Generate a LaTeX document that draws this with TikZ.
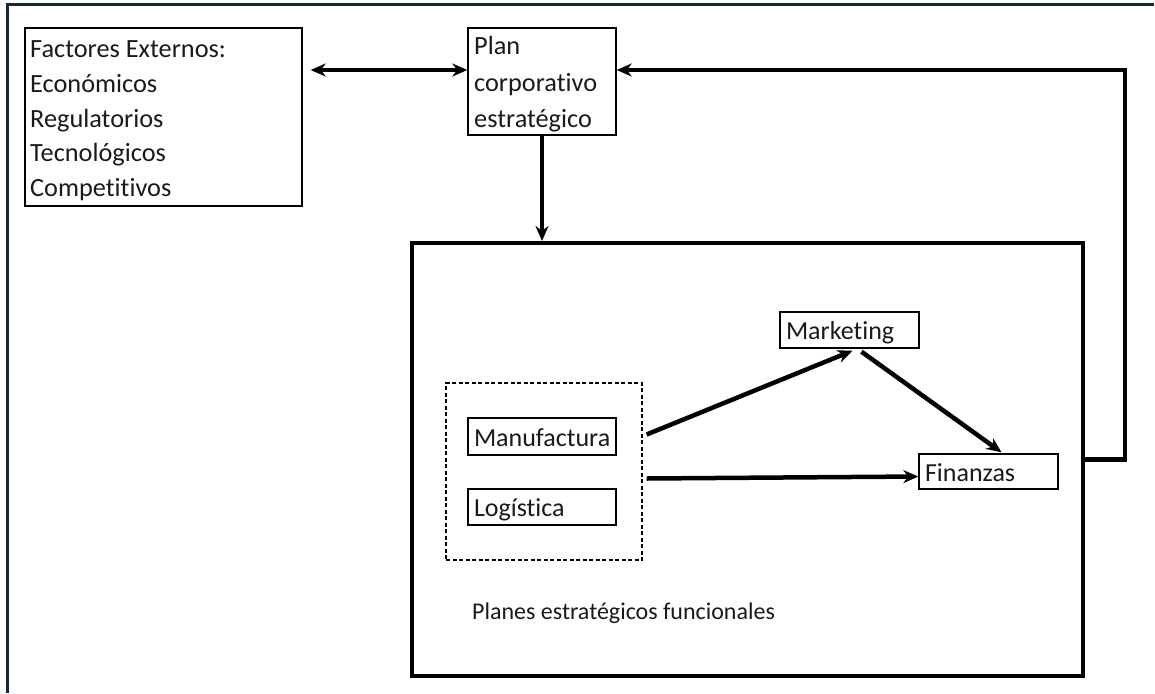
\documentclass[tikz,border=0pt]{standalone}
\usepackage{fontspec}
\setmainfont{Carlito}[Ligatures=NoCommon]
\usetikzlibrary{arrows.meta}
\definecolor{frame}{HTML}{17253F}
\definecolor{txt}{HTML}{1A1A1A}
\begin{document}
\begin{tikzpicture}[x=1pt,y=-1pt,
  box/.style={draw=black, line width=1.4pt, rectangle, inner sep=0pt},
  lbox/.style={box, inner xsep=6pt, inner ysep=0pt, align=left, text=txt,
     text height=21pt, text depth=2pt, font=\fontsize{26}{30}\selectfont},
  line/.style={anchor=base west, inner sep=0pt, text=txt, font=\fontsize{26.3}{30}\selectfont},
  arr/.style={line width=4.5pt, -{Stealth[length=15pt,width=13pt]}},
  dbl/.style={line width=4.5pt, {Stealth[length=15pt,width=13pt]}-{Stealth[length=15pt,width=13pt]}},
  ]
\useasboundingbox (0,0) rectangle (1155,693);
% outer frame (top and left only)
\draw[frame, line width=3pt] (7,693) -- (7,5) -- (1154,5);

% boxes
\node[box, minimum width=277pt, minimum height=178pt] (factores) at (163.5,117) {};
\node[box, minimum width=148pt, minimum height=107pt] (plan) at (542,81.5) {};
\node[draw=black, line width=4pt, minimum width=671pt, minimum height=433pt, inner sep=0pt] (bigbox) at (747.5,459.5) {};
\node[draw=black, line width=1.2pt, dashed, dash pattern=on 4pt off 2.5pt, minimum width=196pt, minimum height=177pt, inner sep=0pt] (group) at (544,471.5) {};
\node[lbox, text width=136pt, minimum height=37pt] (manu) at (542,436.5) {Manufactura};
\node[lbox, text width=136pt, minimum height=36pt] (logi) at (542,507) {Logística};
\node[lbox, text width=127pt, minimum height=36pt] (mkt) at (849.5,330) {Marketing};
\node[lbox, text width=127pt, minimum height=35pt] (fin) at (988.5,471.5) {Finanzas};

% texts
\node[line] (f1) at (30,58) {Factores Externos:};
\node[line] (f2) at (30,92.5) {Económicos};
\node[line] (f3) at (30,127) {Regulatorios};
\node[line] (f4) at (30,161.5) {Tecnológicos};
\node[line] (f5) at (30,196) {Competitivos};
\node[line] (p1) at (474,55) {Plan};
\node[line] (p2) at (474,91) {corporativo};
\node[line] (p3) at (474,127) {estratégico};
\node[line, font=\fontsize{24}{28}\selectfont] (planes) at (472,619) {Planes estratégicos funcionales};

% connectors
\coordinate (fy) at (0,70);
\coordinate (fbtop) at (1125,70);
\draw[dbl] ([xshift=8pt]factores.east |- fy) -- (plan.west |- fy);
\draw[arr] (plan.south) -- (plan.south |- bigbox.north);
\draw[arr] (bigbox.east) -| (fbtop) -- (plan.east |- fbtop);
\draw[arr] ([xshift=4pt,yshift=2pt]group.east |- manu.east) -- ([xshift=3pt,yshift=-2pt]mkt.south);
\draw[arr] ([xshift=12pt,yshift=-3pt]mkt.south) -- ([xshift=13pt,yshift=1pt]fin.north);
\draw[arr] ([xshift=4pt,yshift=-7pt]group.east |- fin.west) -- ([yshift=-5pt]fin.west);
\end{tikzpicture}
\end{document}
